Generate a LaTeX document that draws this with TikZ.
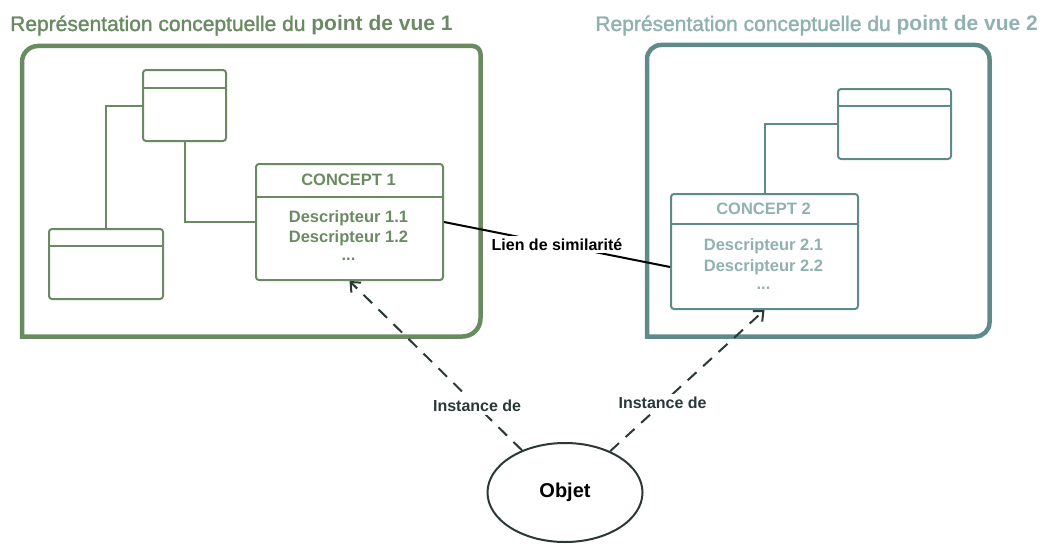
\documentclass[tikz,border=0pt]{standalone}
\usepackage{fontspec}
\setmainfont{Liberation Sans}
\newfontfamily\medfont[FakeBold=1.5]{Liberation Sans}
\usetikzlibrary{arrows.meta,shapes.geometric,calc}
\definecolor{vgreen}{HTML}{6A8A62}
\definecolor{vteal}{HTML}{5F8A8A}
\definecolor{vteallt}{HTML}{8FB1AF}
\definecolor{vdark}{HTML}{2B3838}
\begin{document}
\begin{tikzpicture}[x=1pt,y=-1pt,
  frame/.style={line width=4.5pt, inner sep=0pt, anchor=north west},
  ubox/.style={draw=#1, line width=2pt, rounded corners=3pt, inner sep=0pt, anchor=north west},
  divider/.style={draw=#1, line width=2pt},
  link/.style={draw=#1, line width=2pt},
  ttl/.style={anchor=base west, text=#1, font=\medfont\fontsize{21}{25}\selectfont, inner sep=0pt},
  ctext/.style={text=#1, font=\bfseries\fontsize{16.5}{19}\selectfont, inner sep=0pt},
  simline/.style={draw=black, line width=2pt},
  lbl/.style={fill=white, font=\bfseries\fontsize{16}{19}\selectfont, inner sep=3pt},
  inst/.style={draw=vdark, line width=2pt, dash pattern=on 12pt off 9pt, -{Straight Barb[length=8pt,width=14pt,line width=2pt]}},
]
\useasboundingbox (0,0) rectangle (1043,543);

% titles
\node[ttl=vgreen] (t1) at (10,31) {Représentation conceptuelle du {\normalfont\bfseries point de vue 1}};
\node[ttl=vteallt, anchor=base east] (t2) at (1038,31) {Représentation conceptuelle du {\normalfont\bfseries point de vue 2}};

% frames
\node[frame, minimum width=454pt, minimum height=286pt] (f1) at (22,46) {};
\draw[vgreen, line width=4.5pt] (f1.south west) [rounded corners=16pt] -- (f1.north west) [rounded corners=8pt] -- (f1.north east) [rounded corners=18pt] -- (f1.south east) [sharp corners] -- cycle;
\node[frame, minimum width=338pt, minimum height=287pt] (f2) at (647,45) {};
\draw[vteal, line width=4.5pt] (f2.south west) [rounded corners=14pt] -- (f2.north west) -- (f2.north east) -- (f2.south east) [sharp corners] -- cycle;

% left view boxes
\node[ubox=vgreen, minimum width=83pt, minimum height=71pt] (b1) at (142,69) {};
\draw[divider=vgreen] (b1.west |- 0,88) -- (b1.east |- 0,88);
\node[ubox=vgreen, minimum width=114pt, minimum height=70pt] (b2) at (48,228) {};
\draw[divider=vgreen] (b2.west |- 0,246) -- (b2.east |- 0,246);
\node[ubox=vgreen, minimum width=187pt, minimum height=116pt] (c1) at (255,163) {};
\draw[divider=vgreen] (c1.west |- 0,197) -- (c1.east |- 0,197);
\node[ctext=vgreen] (c1h) at (348.5,180) {CONCEPT 1};
\node[ctext=vgreen] (c1d1) at (348.5,218) {Descripteur 1.1};
\node[ctext=vgreen] (c1d2) at (348.5,238) {Descripteur 1.2};
\node[ctext=vgreen] (c1d3) at (348.5,259) {...};

\draw[link=vgreen] (b1.west) -| (b2.north);
\draw[link=vgreen] (b1.south) |- (c1.west);

% right view boxes
\node[ubox=vteal, minimum width=113pt, minimum height=70pt] (b3) at (837,88) {};
\draw[divider=vteal] (b3.west |- 0,106) -- (b3.east |- 0,106);
\node[ubox=vteal, minimum width=187pt, minimum height=115pt] (c2) at (670,193) {};
\draw[divider=vteal] (c2.west |- 0,224) -- (c2.east |- 0,224);
\node[ctext=vteallt] (c2h) at (763.5,208.5) {CONCEPT 2};
\node[ctext=vteallt] (c2d1) at (763.5,246) {Descripteur 2.1};
\node[ctext=vteallt] (c2d2) at (763.5,267) {Descripteur 2.2};
\node[ctext=vteallt] (c2d3) at (763.5,288) {...};

\draw[link=vteal] (b3.west) -| (c2.north);

% similarity link
\draw[simline] (c1.east) -- node[lbl, text=black, pos=0.5] (sim) {Lien de similarité} ([yshift=-15.5pt]c2.west);

% object
\node[draw=vdark, line width=2pt, ellipse, minimum width=155pt, minimum height=99pt, inner sep=0pt,
      font=\bfseries\fontsize{20}{23}\selectfont] (obj) at (565,492.5) {Objet};

\draw[inst] (obj) -- node[lbl, text=vdark, pos=0.26] (i1) {Instance de} (c1.south);
\draw[inst] (obj) -- node[lbl, text=vdark, pos=0.34] (i2) {Instance de} (c2.south);
\end{tikzpicture}
\end{document}
